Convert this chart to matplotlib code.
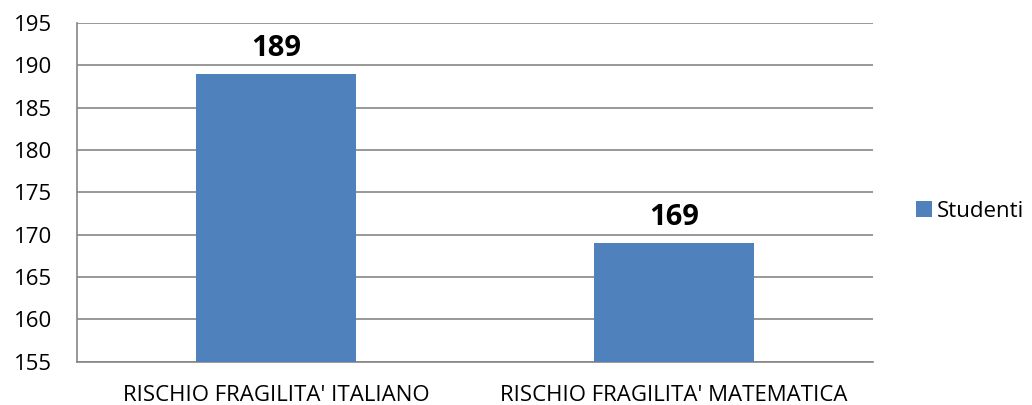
import matplotlib.pyplot as plt
from matplotlib.patches import Patch

categorie = ["RISCHIO FRAGILITA' ITALIANO", "RISCHIO FRAGILITA' MATEMATICA"]
studenti = [189, 169]
y_ticks = [155, 160, 165, 170, 175, 180, 185, 190, 195]

plt.rcParams['font.family'] = ['Open Sans', 'DejaVu Sans']

fig = plt.figure(figsize=(10.32, 4.05), dpi=100)
ax = fig.add_axes([77 / 1032, 1 - 361.5 / 405, 796 / 1032, 338.5 / 405])

x = range(len(categorie))
ax.bar(x, [v - y_ticks[0] for v in studenti], bottom=y_ticks[0], width=0.4,
       color='#4F81BD', zorder=3)

# etichette dei valori sopra le barre
for xi, v in zip(x, studenti):
    ax.text(xi, v + 2.1, str(v), ha='center', va='baseline', fontsize=21,
            fontweight='bold', color='black')

ax.set_xlim(-0.5, 1.5)
ax.set_ylim(155, 195)
ax.set_yticks(y_ticks)
ax.set_xticks(list(x))
ax.set_xticklabels(categorie, fontsize=16)
ax.tick_params(axis='y', labelsize=16, length=0, pad=18)
ax.tick_params(axis='x', length=0, pad=17)
ax.yaxis.grid(True, color='#868686', linewidth=1.2, zorder=0)

for s in ['top', 'right']:
    ax.spines[s].set_visible(False)
for s in ['left', 'bottom']:
    ax.spines[s].set_color('#868686')
    ax.spines[s].set_linewidth(1.2)

handle = Patch(facecolor='#4F81BD', label='Studenti')
fig.legend(handles=[handle], loc='center left', bbox_to_anchor=(916 / 1032, 1 - 211 / 405),
           frameon=False, fontsize=16, handlelength=0.72, handleheight=0.72,
           handletextpad=0.2, borderaxespad=0, borderpad=0)

fig.savefig('out.png', dpi=100)
